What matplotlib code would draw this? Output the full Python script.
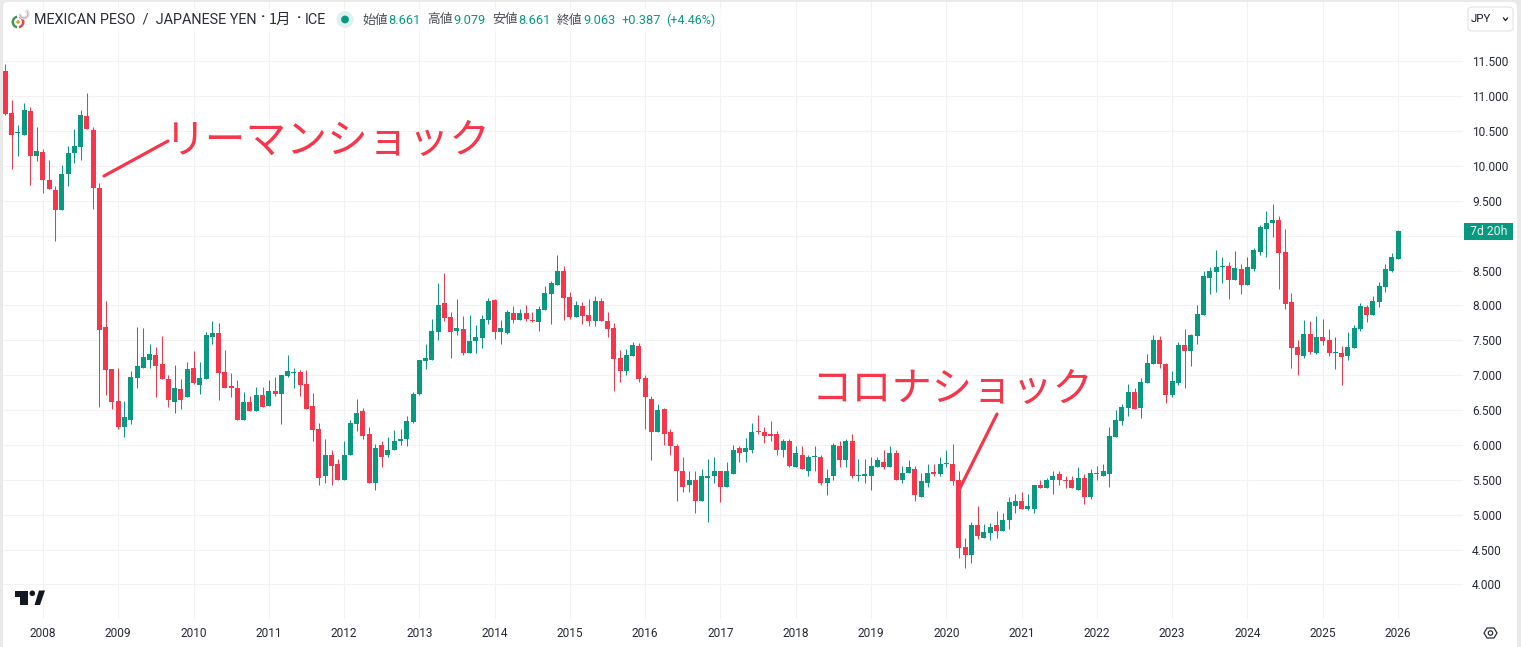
import numpy as np
import matplotlib
matplotlib.use("Agg")
import matplotlib.pyplot as plt
from matplotlib.patches import FancyBboxPatch, Polygon, Circle, Rectangle, Wedge
from matplotlib.lines import Line2D

plt.rcParams['font.family'] = ['Noto Sans CJK JP', 'DejaVu Sans']

opens = [11.36,10.76,10.47,10.45,10.79,10.15,10.20,9.80,9.66,9.37,9.88,10.18,10.27,10.72,10.52,9.68,
 7.69,7.09,6.63,6.25,6.36,6.96,7.10,7.22,7.29,7.16,6.95,6.62,6.80,6.68,7.10,6.86,6.95,7.55,7.60,7.05,
 6.83,6.82,6.36,6.62,6.48,6.72,6.56,6.78,6.73,6.99,7.03,7.05,6.88,6.56,6.23,5.55,5.86,5.72,5.49,5.85,
 6.30,6.49,6.15,5.46,6.00,5.86,5.92,6.05,6.09,6.33,6.73,7.20,7.22,7.62,8.03,7.83,7.63,7.66,7.32,7.49,
 7.53,7.79,8.08,7.62,7.60,7.89,7.79,7.89,7.79,7.76,7.93,8.16,8.30,8.50,8.12,7.83,7.99,7.86,7.78,8.06,
 7.78,7.68,7.25,7.06,7.28,7.42,6.96,6.66,6.18,6.52,6.18,5.99,5.63,5.42,5.49,5.20,5.52,5.55,5.62,5.39,
 5.58,5.95,5.90,5.93,6.19,6.18,6.15,6.16,5.92,6.05,5.69,5.85,5.63,5.82,5.83,5.45,5.55,5.98,5.78,6.06,
 5.55,5.56,5.56,5.68,5.76,5.68,5.88,5.49,5.60,5.66,5.26,5.46,5.60,5.58,5.72,5.73,5.50,4.53,4.42,4.85,
 4.66,4.73,4.85,4.76,4.92,5.13,5.19,5.08,5.08,5.42,5.38,5.49,5.58,5.50,5.49,5.36,5.53,5.25,5.60,5.55,
 5.59,6.12,6.35,6.53,6.76,6.53,6.89,7.16,7.50,7.16,6.72,6.89,7.43,7.35,7.56,7.86,8.40,8.48,8.55,8.56,
 8.36,8.52,8.29,8.52,8.76,9.10,9.18,9.23,8.76,8.05,7.40,7.28,7.59,7.32,7.55,7.50,7.32,7.32,7.28,7.39,
 7.66,7.98,7.86,8.05,8.26,8.50,8.661]
highs = [11.46,10.95,10.59,10.90,10.85,10.56,10.25,10.09,9.72,10.02,10.28,10.53,10.80,11.05,10.56,9.75,
 8.06,7.09,7.10,6.63,7.06,7.69,7.68,7.45,7.40,7.56,7.00,7.15,6.95,7.19,7.35,7.19,7.62,7.78,7.75,7.36,
 7.03,6.93,6.76,6.70,6.83,6.83,6.93,6.98,7.00,7.29,7.10,7.08,7.08,6.75,6.32,6.09,5.93,5.80,6.05,6.36,
 6.66,6.53,6.26,6.02,6.05,6.12,6.22,6.23,6.42,6.76,7.22,7.45,7.80,8.32,8.46,7.90,8.09,7.85,7.86,7.72,
 7.86,8.10,8.09,7.79,7.93,7.99,7.95,8.00,7.90,7.99,8.28,8.35,8.73,8.56,8.20,8.06,8.05,8.09,8.13,8.10,
 7.91,7.75,7.36,7.38,7.48,7.46,7.00,6.70,6.58,6.53,6.23,6.02,5.82,5.62,5.62,5.66,5.80,5.83,5.63,5.76,
 6.00,5.99,6.10,6.32,6.43,6.26,6.35,6.20,6.08,6.08,5.98,5.99,5.86,5.98,5.86,5.66,6.03,6.05,6.09,6.16,
 5.80,5.80,5.82,5.83,5.92,5.98,5.92,5.70,5.78,5.70,5.60,5.73,5.73,5.82,5.92,6.02,5.62,4.66,4.89,5.12,
 4.86,4.88,5.05,5.03,5.25,5.29,5.32,5.30,5.43,5.49,5.53,5.62,5.63,5.56,5.55,5.68,5.59,5.66,5.70,5.72,
 6.25,6.50,6.59,6.88,6.82,6.96,7.30,7.58,7.56,7.18,7.06,7.48,7.66,7.59,8.00,8.49,8.55,8.79,8.70,8.62,
 8.78,8.59,8.69,8.83,9.16,9.35,9.46,9.29,9.10,8.18,7.50,7.79,7.78,7.85,7.81,7.66,7.55,7.42,7.62,7.72,
 8.03,8.00,8.13,8.33,8.60,8.75,9.079]
lows = [10.73,9.95,10.14,10.45,9.73,10.07,9.61,9.67,8.92,9.37,9.71,10.05,10.08,10.53,9.39,6.55,
 6.72,6.52,6.23,6.12,6.30,6.82,7.10,7.10,6.68,6.95,6.55,6.46,6.52,6.68,6.88,6.73,6.95,7.45,6.65,6.82,
 6.68,6.36,6.36,6.49,6.48,6.55,6.56,6.70,6.30,6.98,6.82,6.70,6.52,6.06,5.42,5.46,5.43,5.49,5.49,5.85,
 6.20,6.09,5.46,5.36,5.69,5.82,5.92,6.00,5.98,6.32,6.72,7.09,7.22,7.50,7.78,7.25,7.58,7.29,7.32,7.32,
 7.39,7.73,7.52,7.45,7.59,7.75,7.79,7.78,7.76,7.63,7.93,7.73,8.30,7.79,7.80,7.83,7.73,7.70,7.70,7.78,
 7.55,6.78,6.90,7.00,7.28,6.90,6.23,5.78,6.18,6.00,5.86,5.20,5.32,5.32,5.03,5.20,4.89,5.46,5.18,5.39,
 5.58,5.76,5.75,5.88,6.16,6.03,6.05,5.85,5.83,5.68,5.69,5.65,5.56,5.63,5.42,5.28,5.49,5.69,5.68,5.52,
 5.48,5.46,5.36,5.68,5.66,5.68,5.49,5.45,5.60,5.20,5.26,5.39,5.56,5.56,5.68,5.43,4.38,4.23,4.30,4.65,
 4.66,4.63,4.66,4.76,4.80,5.03,5.08,5.06,5.03,5.38,5.38,5.30,5.42,5.38,5.38,5.35,5.15,5.23,5.50,5.55,
 5.39,6.12,6.28,6.42,6.52,6.39,6.89,7.16,7.10,6.60,6.68,6.86,6.82,7.13,7.45,7.86,8.16,8.19,8.32,8.09,
 8.36,8.16,8.29,8.50,8.72,8.69,8.98,8.23,7.95,7.10,7.00,7.25,7.30,7.30,7.43,7.28,7.09,6.86,7.22,7.39,
 7.63,7.76,7.86,7.98,8.19,8.48,8.661]
closes = [10.75,10.45,10.48,10.80,10.15,10.22,9.80,9.67,9.37,9.89,10.19,10.28,10.73,10.53,9.68,7.65,
 7.08,6.61,6.25,6.40,6.98,7.13,7.26,7.30,7.13,6.95,6.65,6.82,6.65,7.09,6.89,6.96,7.58,7.60,7.03,6.82,
 6.82,6.36,6.62,6.49,6.72,6.55,6.78,6.73,7.00,7.06,7.05,6.86,6.52,6.22,5.52,5.86,5.70,5.49,5.86,6.32,
 6.46,6.13,5.46,5.96,5.83,5.93,6.06,6.09,6.35,6.73,7.22,7.25,7.63,8.00,7.82,7.62,7.68,7.32,7.49,7.55,
 7.80,8.06,7.62,7.68,7.90,7.79,7.89,7.80,7.78,7.95,8.18,8.32,8.50,8.10,7.83,8.00,7.85,7.78,8.06,7.78,
 7.66,7.23,7.06,7.29,7.43,6.95,6.68,6.19,6.50,6.16,5.98,5.63,5.40,5.50,5.20,5.56,5.56,5.63,5.40,5.62,
 5.92,5.89,5.95,6.19,6.18,6.13,6.13,5.92,6.05,5.70,5.88,5.65,5.83,5.83,5.45,5.53,6.00,5.79,6.05,5.55,
 5.56,5.58,5.70,5.78,5.68,5.88,5.49,5.60,5.68,5.28,5.48,5.60,5.59,5.72,5.73,5.48,4.52,4.42,4.85,4.69,
 4.75,4.82,4.76,4.93,5.18,5.19,5.08,5.12,5.42,5.38,5.49,5.56,5.49,5.48,5.38,5.53,5.26,5.60,5.58,5.63,
 6.13,6.36,6.55,6.76,6.52,6.90,7.18,7.50,7.16,6.72,6.92,7.43,7.35,7.58,7.88,8.42,8.49,8.55,8.56,8.36,
 8.53,8.29,8.55,8.80,9.12,9.18,9.23,8.75,8.02,7.39,7.29,7.59,7.33,7.55,7.49,7.32,7.33,7.26,7.40,7.68,
 7.99,7.86,8.06,8.28,8.52,8.69,9.063]

years = list(range(2008, 2027))
price_ticks = [4.0, 4.5, 5.0, 5.5, 6.0, 6.5, 7.0, 7.5, 8.0, 8.5, 9.0, 9.5, 10.0, 10.5, 11.0, 11.5]
hidden_price_label = 9.0
title = "MEXICAN PESO  /  JAPANESE YEN"
ohlc_labels = ["始値", "高値", "安値", "終値"]
ohlc_values = ["8.661", "9.079", "8.661", "9.063"]
change_text = "+0.387"
pct_text = "(+4.46%)"
countdown = "7d 20h"

GREEN = "#089981"
RED = "#f6364a"
GRID = "#f2f2f3"
TXT = "#131722"
W, H = 1521, 647

fig = plt.figure(figsize=(W/100, H/100), dpi=100, facecolor="#e9e9ea")

# page panel
bg = fig.add_axes([0, 0, 1, 1], zorder=0)
bg.set_xlim(0, W); bg.set_ylim(H, 0); bg.axis("off")
bg.add_patch(FancyBboxPatch((7, 6), 1506, 660, boxstyle="round,pad=4,rounding_size=5",
                            fc="white", ec="none"))

# price pane: pixel box 3..1463 x 2..619
L, R, T, B = 3, 1463, 2, 619
ax = fig.add_axes([L/W, 1-B/H, (R-L)/W, (B-T)/H], zorder=1)
ax.patch.set_alpha(0)
x = np.arange(len(opens))
step = 6.2735
x0 = 5.3
ax.set_xlim((L-x0)/step, (R-x0)/step)
scale = 69.73
ax.set_ylim(11.5-(B-61.4)/scale, 11.5-(T-61.4)/scale)
for s in ax.spines.values():
    s.set_visible(False)

o, h, l, c = map(np.array, (opens, highs, lows, closes))
up = c >= o
cols = np.where(up, GREEN, RED)
ax.vlines(x, l, h, colors=cols, linewidth=0.74, zorder=3)
ax.bar(x, np.maximum(np.abs(c-o), 0.018), bottom=np.minimum(o, c), width=5/step,
       color=cols, linewidth=0, zorder=4)

year_pos = [(y-2007)*12-6 for y in years]
ax.set_xticks(year_pos)
ax.set_xticklabels([str(y) for y in years], fontsize=8.6, color=TXT, family="Roboto", alpha=0.92)
ax.set_yticks(price_ticks)
ax.set_yticklabels(["" if p == hidden_price_label else f"{p:.3f}" for p in price_ticks],
                   fontsize=8.6, color=TXT, family="Roboto", alpha=0.92)
ax.yaxis.tick_right()
ax.tick_params(axis="both", length=0)
ax.tick_params(axis="y", pad=6.6)
ax.tick_params(axis="x", pad=5.6)
ax.grid(True, color=GRID, linewidth=0.75, zorder=0)
ax.set_axisbelow(True)

# overlay in pixels for chart chrome and annotations
ov = fig.add_axes([0, 0, 1, 1], zorder=5)
ov.set_xlim(0, W); ov.set_ylim(H, 0); ov.axis("off"); ov.patch.set_alpha(0)

def text(px, py, s, **kw):
    kw.setdefault("va", "center"); kw.setdefault("ha", "left")
    return ov.text(px, py, s, **kw)

# Annotations
ov.add_line(Line2D([104, 168], [176, 141], color=RED, lw=2.3, solid_capstyle="round"))
ov.add_line(Line2D([958, 997], [492, 414], color=RED, lw=2.3, solid_capstyle="round"))
text(164, 141, "リーマンショック", fontsize=29.3, color=RED, family="Noto Sans CJK JP")
text(812, 389, "コロナショック", fontsize=29.0, color=RED, family="Noto Sans CJK JP")

# Header legend
ov.add_patch(Rectangle((4, 9), 720, 22, fc="white", ec="none", alpha=0.75))
ov.add_patch(Wedge((18, 22), 6.5, 100, 260, fc="#3b9a5a", ec="none", width=2.5))
ov.add_patch(Wedge((18, 22), 6.5, -80, 80, fc="#e8483f", ec="none", width=2.5))
ov.add_patch(Circle((18, 22), 1.8, fc="#e0a030", ec="none"))
ov.add_patch(Wedge((24, 14), 5, -60, 180, fc="#e86a60", ec="#e6e6f0", lw=1, width=2))
text(34, 20, title, fontsize=10.4, color=TXT, family="Roboto", alpha=0.9)
text(260.5, 17, "·", fontsize=11, color=TXT, family="Roboto", fontweight="bold")
text(269, 20, "1月", fontsize=10.4, color=TXT, family="Noto Sans CJK JP", alpha=0.9)
text(296.5, 18.5, "·", fontsize=11, color=TXT, family="Roboto", fontweight="bold")
text(305, 20, "ICE", fontsize=10.4, color=TXT, family="Roboto", alpha=0.9)
ov.add_patch(Circle((345, 19.5), 8.5, fc="#dff1ee", ec="none"))
ov.add_patch(Circle((345, 19.5), 3.9, fc=GREEN, ec="none"))
label_x = [362, 427, 492, 557]
value_x = [388.5, 453.5, 518.5, 583.5]
for lx, vx, lab, val in zip(label_x, value_x, ohlc_labels, ohlc_values):
    text(lx, 20, lab, fontsize=9.2, color="#4a4d55", family="Noto Sans CJK JP")
    text(vx, 20, val, fontsize=9.2, color=GREEN, family="Roboto")
text(622, 20, change_text, fontsize=9.2, color=GREEN, family="Roboto")
text(666, 20, pct_text, fontsize=9.0, color=GREEN, family="Roboto")

# Currency button
ov.add_patch(FancyBboxPatch((1470, 9), 41, 20, boxstyle="round,pad=2,rounding_size=4",
                            fc="white", ec="#e3e3e6", lw=0.8))
text(1471, 18.5, "JPY", fontsize=8.2, color=TXT, family="Roboto")
ov.add_line(Line2D([1503.5, 1505.5, 1507.5], [18, 20.5, 18], color=TXT, lw=0.9))

# Countdown tag
ov.add_patch(Rectangle((1464, 223), 49, 17, fc=GREEN, ec="none"))
text(1489, 231.5, countdown, fontsize=8.8, color="#e6f4f1", family="Roboto", ha="center")

# TradingView mark
ov.add_patch(Polygon([(15, 590.5), (28, 590.5), (28, 605), (20, 605), (20, 597), (15, 597)], fc="#131722", ec="none"))
ov.add_patch(Circle((32.3, 593.3), 2.8, fc="#131722", ec="none"))
ov.add_patch(Polygon([(39, 590.5), (45, 590.5), (40, 605), (34.5, 605)], fc="#131722", ec="none"))

# Settings hexagon
ov.add_patch(Polygon([(1484, 633), (1487, 628), (1494, 628), (1497, 633), (1494, 638), (1487, 638)],
                     fc="none", ec="#2a2e39", lw=0.9, joinstyle="round"))
ov.add_patch(Circle((1490.5, 633), 2.2, fc="none", ec="#2a2e39", lw=0.9))

fig.savefig("out.png", dpi=100, facecolor=fig.get_facecolor())
